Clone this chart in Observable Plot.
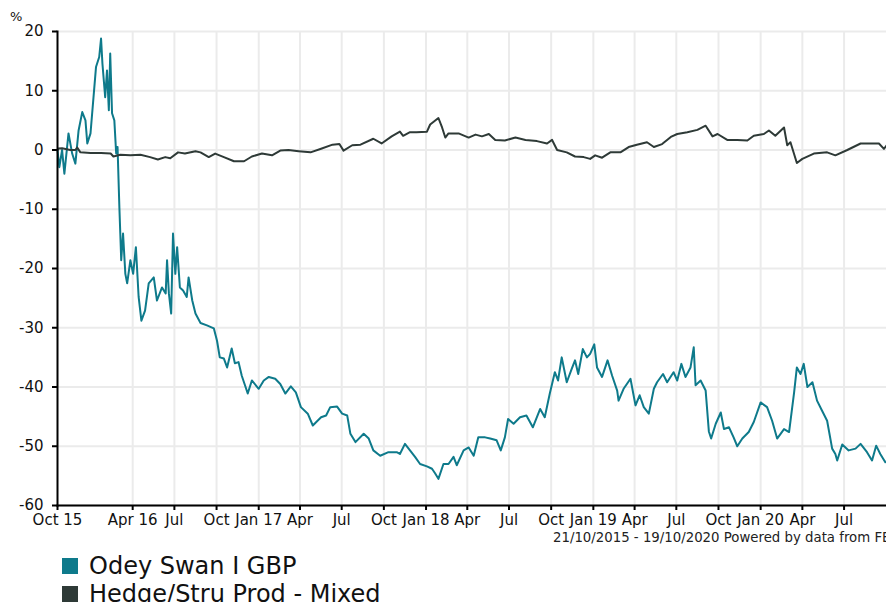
<!DOCTYPE html>
<html><head><meta charset="utf-8">
<script src="https://cdn.jsdelivr.net/npm/d3@7"></script>
<script src="https://cdn.jsdelivr.net/npm/@observablehq/plot@0.6"></script>
<style>
html,body{margin:0;padding:0;overflow:hidden;background:#fff;width:886px;height:602px}
#wrap{position:relative;width:900px;height:602px;font-family:"DejaVu Sans",sans-serif;color:#111}
#unit{position:absolute;left:10px;top:10px;font-size:13px;line-height:1}
#chart{position:absolute;left:0;top:0}
#caption{position:absolute;left:553px;top:531px;font-size:13.3px;line-height:1;white-space:nowrap;color:#222}
#legend{position:absolute;left:62px;top:552px;font-size:24px;line-height:28px}
.item{display:flex;align-items:center;white-space:nowrap}
.sw{width:16px;height:16px;margin-right:11px;flex:none}
</style></head><body>
<div id="wrap">
<div id="chart"></div>
<div id="unit">%</div>
<div id="caption">21/10/2015 - 19/10/2020 Powered by data from FE</div>
<div id="legend"></div>
</div>
<script>
const seriesNames = ["Odey Swan I GBP", "Hedge/Stru Prod - Mixed"];
const seriesColors = ["#0e7a8b", "#2e3a37"];

const odeyDates = ["2015-10-20","2015-10-24","2015-10-30","2015-11-04","2015-11-13","2015-11-21","2015-11-28","2015-12-05","2015-12-13","2015-12-20","2015-12-24","2015-12-31",
"2016-01-12","2016-01-19","2016-01-23","2016-01-26","2016-02-01","2016-02-05","2016-02-09","2016-02-12","2016-02-16","2016-02-21","2016-02-25","2016-02-28",
"2016-03-03","2016-03-05","2016-03-07","2016-03-11","2016-03-16","2016-03-20","2016-03-27","2016-04-02","2016-04-08","2016-04-14","2016-04-20","2016-04-28",
"2016-05-06","2016-05-17","2016-05-24","2016-06-04","2016-06-12","2016-06-15","2016-06-19","2016-06-24","2016-06-28","2016-07-03","2016-07-07","2016-07-13",
"2016-07-20","2016-07-28","2016-08-01","2016-08-09","2016-08-16","2016-08-27","2016-09-10","2016-09-25","2016-10-02","2016-10-08","2016-10-17","2016-10-24",
"2016-11-03","2016-11-10","2016-11-18","2016-11-25","2016-12-02","2016-12-08","2016-12-17","2017-01-01","2017-01-12","2017-01-23","2017-02-06","2017-02-17",
"2017-02-28","2017-03-12","2017-03-23","2017-04-03","2017-04-18","2017-04-29","2017-05-17","2017-05-28","2017-06-06","2017-06-21","2017-07-02","2017-07-13",
"2017-07-20","2017-07-31","2017-08-18","2017-08-29","2017-09-08","2017-09-23","2017-10-11","2017-10-29","2017-11-05","2017-11-16","2017-11-27","2017-12-08",
"2017-12-19","2018-01-03","2018-01-14","2018-01-21","2018-01-28","2018-02-08","2018-02-19","2018-03-02","2018-03-09","2018-03-24","2018-04-04","2018-04-15",
"2018-04-25","2018-05-10","2018-05-21","2018-06-04","2018-06-13","2018-06-22","2018-06-29","2018-07-11","2018-07-25","2018-08-08","2018-08-22","2018-09-07",
"2018-09-17","2018-09-28","2018-10-09","2018-10-16","2018-10-24","2018-11-04","2018-11-15","2018-11-22","2018-11-29","2018-12-09","2018-12-18","2018-12-25",
"2019-01-03","2019-01-09","2019-01-20","2019-02-01","2019-02-11","2019-02-22","2019-02-25","2019-03-08","2019-03-23","2019-04-03","2019-04-12","2019-04-21",
"2019-05-02","2019-05-13","2019-05-20","2019-06-02","2019-06-11","2019-06-25","2019-07-03","2019-07-12","2019-07-21","2019-08-01","2019-08-08","2019-08-12",
"2019-08-23","2019-09-03","2019-09-10","2019-09-15","2019-09-25","2019-10-06","2019-10-13","2019-10-24","2019-11-03","2019-11-11","2019-11-22","2019-12-06",
"2019-12-17","2020-01-01","2020-01-15","2020-01-26","2020-02-06","2020-02-21","2020-03-03","2020-03-14","2020-03-20","2020-03-28","2020-04-04","2020-04-12",
"2020-04-23","2020-05-03","2020-05-14","2020-05-25","2020-06-05","2020-06-12","2020-06-16","2020-06-27","2020-07-11","2020-07-26","2020-08-06","2020-08-20",
"2020-08-31","2020-09-09","2020-09-18","2020-09-29","2020-10-10","2020-10-19"];
const odeyValues = [0,-2.9,0,-4,2.8,-0.6,-2.3,3.3,6.4,5,1.1,2.8,
14,15.7,18.8,14.6,8.9,13.4,6.7,16.3,6.2,5,-0.6,0.5,
-9.7,-14.1,-18.6,-14.1,-20.9,-22.5,-18.6,-20.9,-16.4,-24.8,-28.8,-27.1,
-22.5,-21.5,-25.4,-23.2,-24.2,-18.6,-24.2,-27.6,-14.1,-20.9,-16.4,-23.2,
-23.7,-24.8,-21.5,-25.4,-27.6,-29.2,-29.6,-30.1,-32.2,-35,-35.2,-36.7,
-33.5,-36,-35.8,-38.1,-39.7,-41.1,-38.9,-40.3,-38.9,-38.3,-38.6,-39.5,
-41.1,-39.9,-40.9,-43.4,-44.5,-46.5,-45.1,-44.8,-43.4,-43.3,-44.5,-44.8,
-47.9,-49.3,-47.9,-48.7,-50.7,-51.6,-51,-51,-51.3,-49.6,-50.7,-51.8,
-53,-53.4,-53.8,-54.6,-55.5,-53,-53,-51.8,-53.2,-50.7,-50.2,-51.6,
-48.5,-48.5,-48.7,-49,-50.7,-48.5,-45.4,-46.2,-45.1,-44.8,-46.8,-43.7,
-45.1,-41.1,-37.5,-38.9,-35,-39.2,-36.9,-35.5,-37.8,-33.6,-35,-34.4,
-32.8,-36.7,-38.3,-35.5,-38.1,-40.6,-42.3,-40.3,-38.6,-43.1,-41.4,-43.4,
-44.5,-40.3,-39.2,-37.8,-39.2,-37.5,-38.9,-36.1,-38.3,-36.7,-33.3,-39.7,
-38.9,-40.6,-47.5,-48.7,-46.2,-44.3,-47.1,-46.8,-48.5,-50,-48.7,-47.6,
-45.9,-42.6,-43.4,-45.7,-48.7,-47.1,-47.6,-40.9,-36.7,-37.8,-36.1,-40,
-39.2,-42.3,-44,-45.7,-50.4,-51.3,-52.4,-49.7,-50.7,-50.4,-49.6,-51,
-52.4,-49.9,-51.3,-52.7,-52,-52.5];

const benchDates = ["2015-10-20","2015-10-22","2015-10-30","2015-11-17","2015-11-28","2015-12-02","2015-12-09","2015-12-31","2016-01-23","2016-02-13","2016-02-19","2016-03-05",
"2016-03-27","2016-04-18","2016-05-09","2016-05-26","2016-06-11","2016-06-22","2016-07-09","2016-07-24","2016-08-16","2016-08-27","2016-09-14","2016-09-28",
"2016-10-17","2016-11-08","2016-11-30","2016-12-17","2017-01-08","2017-01-30","2017-02-17","2017-03-07","2017-03-29","2017-04-24","2017-05-17","2017-06-11",
"2017-06-26","2017-07-05","2017-07-24","2017-08-11","2017-09-08","2017-09-26","2017-10-18","2017-11-05","2017-11-12","2017-11-27","2017-12-11","2018-01-03",
"2018-01-10","2018-01-28","2018-02-05","2018-02-12","2018-02-19","2018-03-13","2018-04-04","2018-04-19","2018-05-03","2018-05-18","2018-06-01","2018-06-22",
"2018-07-15","2018-08-06","2018-08-31","2018-09-22","2018-10-03","2018-10-14","2018-11-04","2018-11-22","2018-12-11","2018-12-25","2019-01-05","2019-01-20",
"2019-02-07","2019-03-01","2019-03-19","2019-04-06","2019-04-28","2019-05-13","2019-05-31","2019-06-19","2019-07-03","2019-07-25","2019-08-16","2019-09-03",
"2019-09-18","2019-09-29","2019-10-20","2019-11-11","2019-12-03","2019-12-17","2020-01-08","2020-01-19","2020-02-02","2020-02-21","2020-02-28","2020-03-06",
"2020-03-20","2020-04-01","2020-04-26","2020-05-25","2020-06-12","2020-07-08","2020-08-06","2020-08-28","2020-09-15","2020-09-26","2020-10-02","2020-10-19"];
const benchValues = [0,0.25,0.3,0,0,0.4,-0.4,-0.5,-0.5,-0.6,-1.1,-0.8,
-0.9,-0.8,-1.2,-1.6,-1.2,-1.4,-0.4,-0.6,-0.2,-0.4,-1.2,-0.6,
-1.2,-1.9,-1.9,-1.1,-0.6,-0.9,-0.1,0,-0.2,-0.4,0.2,0.9,
1,-0.1,0.8,0.9,1.9,1.1,2.3,3.1,2.4,3,3,3.1,
4.3,5.4,3.8,2.1,2.8,2.8,2.1,2.6,2.3,2.7,1.7,1.6,
2.1,1.7,1.5,1.1,1.7,0,-0.4,-1.1,-1.2,-1.5,-0.9,-1.3,
-0.4,-0.4,0.5,0.9,1.3,0.5,1,2.2,2.7,3,3.4,4.1,
2.3,2.7,1.7,1.7,1.6,2.4,2.7,3.3,2.4,3.8,0.8,1.3,
-2.2,-1.5,-0.6,-0.4,-0.9,0,1.1,1.1,1.1,0.2,0.8,0.6];

const xDomain = ["2015-10-20", "2020-10-19"];
const xTickDates = ["2015-10-20","2016-04-01","2016-07-01","2016-10-01","2017-01-01","2017-04-01","2017-07-01","2017-10-01","2018-01-01","2018-04-01",
"2018-07-01","2018-10-01","2019-01-01","2019-04-01","2019-07-01","2019-10-01","2020-01-01","2020-04-01","2020-07-01"];
const xTickLabels = ["Oct 15","Apr 16","Jul","Oct","Jan 17","Apr","Jul","Oct","Jan 18","Apr","Jul","Oct","Jan 19","Apr","Jul","Oct","Jan 20","Apr","Jul"];
const yTicks = [20, 10, 0, -10, -20, -30, -40, -50, -60];

const parse = d3.utcParse("%Y-%m-%d");
const rows = [];
odeyDates.forEach((d, i) => rows.push({date: parse(d), value: odeyValues[i], series: seriesNames[0]}));
benchDates.forEach((d, i) => rows.push({date: parse(d), value: benchValues[i], series: seriesNames[1]}));
const tickDates = xTickDates.map(parse);
const labelMap = new Map(tickDates.map((d, i) => [+d, xTickLabels[i]]));

const chart = Plot.plot({
  width: 900, height: 545,
  marginLeft: 57, marginRight: 6, marginTop: 31, marginBottom: 40,
  style: {fontFamily: "DejaVu Sans", fontSize: "15px", color: "#111", background: "#fff", overflow: "visible"},
  x: {type: "utc", domain: xDomain.map(parse)},
  y: {domain: [-60, 20]},
  color: {domain: seriesNames, range: seriesColors},
  marks: [
    Plot.gridY(yTicks, {stroke: "#ebebeb", strokeOpacity: 1, strokeWidth: 2}),
    Plot.gridX(tickDates.slice(1), {stroke: "#ebebeb", strokeOpacity: 1, strokeWidth: 2}),
    Plot.lineY(rows, {x: "date", y: "value", z: "series", stroke: "series", strokeWidth: 2, strokeLinejoin: "round"}),
    Plot.axisY(yTicks, {tickSize: 5, tickPadding: 9, label: null, stroke: "#000", strokeWidth: 2, tickFormat: d => String(d)}),
    Plot.axisX(tickDates, {tickSize: 5, tickPadding: 4, label: null, stroke: "#000", strokeWidth: 2, tickFormat: d => labelMap.get(+d)}),
    Plot.frame({anchor: "left", stroke: "#000", strokeWidth: 2}),
    Plot.frame({anchor: "bottom", stroke: "#000", strokeWidth: 2})
  ]
});
document.getElementById("chart").append(chart);

const legend = document.getElementById("legend");
seriesNames.forEach((name, i) => {
  const item = document.createElement("div");
  item.className = "item";
  const sw = document.createElement("span");
  sw.className = "sw";
  sw.style.background = seriesColors[i];
  const t = document.createElement("span");
  t.textContent = name;
  item.append(sw, t);
  legend.append(item);
});
</script>
</body></html>
